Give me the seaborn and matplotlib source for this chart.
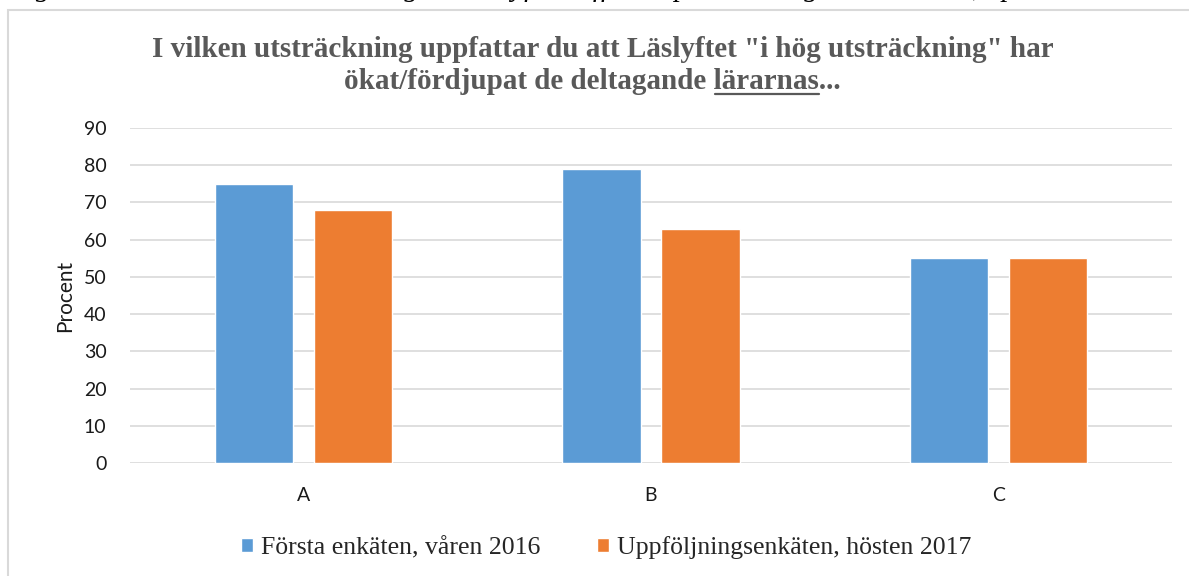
import pandas as pd
import matplotlib.pyplot as plt
import seaborn as sns
from matplotlib.patches import Rectangle

# Data
kategorier = ['A', 'B', 'C']
forsta_2016 = [75, 79, 55]
uppfoljning_2017 = [68, 63, 55]
serier = ['Första enkäten, våren 2016', 'Uppföljningsenkäten, hösten 2017']
farger = ['#5B9BD5', '#ED7D31']

df = pd.DataFrame({
    'fråga': kategorier * 2,
    'procent': forsta_2016 + uppfoljning_2017,
    'enkät': [serier[0]] * 3 + [serier[1]] * 3,
})

sns.set_theme(style='white')
plt.rcParams['font.family'] = ['Lato', 'DejaVu Sans']

W, H = 1189, 576
fig = plt.figure(figsize=(W / 100, H / 100), dpi=100)
ax = fig.add_axes([130 / W, 1 - 463 / H, (1172 - 130) / W, (463 - 128) / H])

sns.barplot(data=df, x='fråga', y='procent', hue='enkät', palette=farger,
            width=0.57, gap=0.21, saturation=1, ax=ax, legend=True)

ax.set_ylim(0, 90)
ax.set_yticks(range(0, 91, 10))
ax.set_xlim(-0.5, 2.5)
ax.grid(axis='y', color='#d9d9d9', linewidth=1.2)
ax.set_axisbelow(True)
for s in ax.spines.values():
    s.set_visible(False)
ax.tick_params(axis='both', length=0, labelsize=14, colors='#1a1a1a')
ax.tick_params(axis='y', pad=17)
ax.tick_params(axis='x', pad=17)
ax.set_xlabel('')
ax.set_ylabel('Procent', fontsize=15, color='#1a1a1a', labelpad=6)

# legend at the bottom
handles, labels = ax.get_legend_handles_labels()
ax.get_legend().remove()
fig.legend(handles, labels, loc='center', bbox_to_anchor=(606 / W, 1 - 548 / H),
           ncol=2, frameon=False, handlelength=0.47, handleheight=0.47,
           handletextpad=0.3, columnspacing=2.2,
           prop={'family': 'Liberation Serif', 'size': 18.5})

# title, two lines, "lärarnas" underlined
titel_rad1 = 'I vilken utsträckning uppfattar du att Läslyftet "i hög utsträckning" har'
titel_fore = 'ökat/fördjupat de deltagande '
titel_ord = 'lärarnas'
titel_efter = '...'
tstil = dict(fontsize=21, fontweight='bold', color='#595959', family='Liberation Serif',
             va='baseline')
fig.text(603 / W, 1 - 57 / H, titel_rad1, ha='center', **tstil)
rad2 = fig.text(592 / W, 1 - 89 / H, titel_fore + titel_ord + titel_efter, ha='center', **tstil)

fig.canvas.draw()
r = fig.canvas.get_renderer()
bb = rad2.get_window_extent(r)
tmp = fig.text(0, 0, titel_fore, **tstil)
w_fore = tmp.get_window_extent(r).width
tmp.set_text(titel_fore + titel_ord)
w_ord = tmp.get_window_extent(r).width
tmp.remove()
x0 = (bb.x0 + w_fore + 2) / W
x1 = (bb.x0 + w_ord) / W
fig.add_artist(plt.Line2D([x0, x1], [1 - 94 / H, 1 - 94 / H], color='#595959', linewidth=1.6))

# caption cut off at the top of the image
fig.text(10 / W, 1 + 4 / H,
         'Figur 5. Lärarenkätens bedömning av Läslyftets effekter på de deltagande lärarna, i procent',
         ha='left', va='baseline', fontsize=21, style='italic', color='black',
         family='Liberation Serif')

# chart border (right and bottom edges fall outside the image)
fig.add_artist(Rectangle((8 / W, -10 / H), 1200 / W, H / H,
                         fill=False, edgecolor='#d9d9d9', linewidth=1.5,
                         transform=fig.transFigure))

fig.savefig('out.png', dpi=100)
